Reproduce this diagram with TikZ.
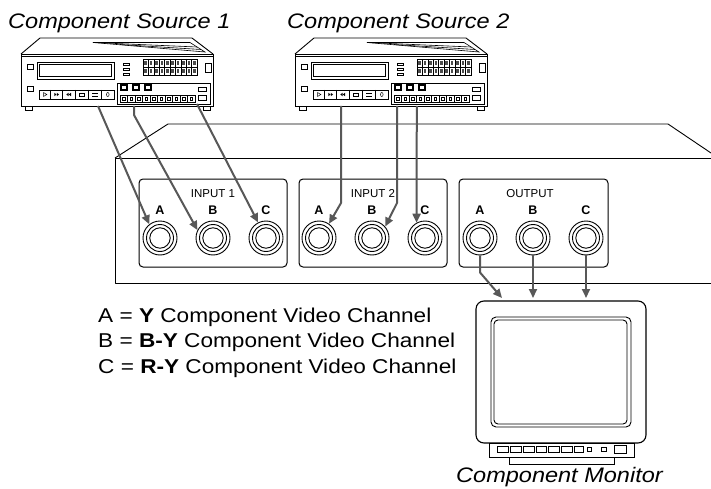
\documentclass[tikz,border=0pt]{standalone}
\usepackage{fontspec}
\setmainfont{Liberation Sans}
\usetikzlibrary{arrows.meta}
\definecolor{cablegray}{RGB}{88,88,88}
\begin{document}
\begin{tikzpicture}[x=1pt,y=-1pt,
  art/.style={draw=black,line width=0.9pt},
  finel/.style={draw=black,line width=0.6pt},
  cable/.style={draw=cablegray,line width=2pt,line join=round,-{Triangle[length=9pt,width=8pt]}},
  jack/.style={circle,draw,line width=0.9pt,minimum size=34pt,inner sep=0pt,
     path picture={\draw[line width=0.9pt] (path picture bounding box.center) circle[radius=13.5pt] circle[radius=10.2pt];}},
  panel/.style={draw,rounded corners=4pt,line width=1pt,minimum height=88pt,inner sep=0pt},
  jlabel/.style={anchor=base,inner sep=0pt,font=\fontsize{12.5}{14}\selectfont\bfseries},
  plabel/.style={anchor=base,inner sep=0pt,font=\fontsize{11.5}{13}\selectfont},
  ttl/.style={anchor=base west,inner sep=0pt,font=\fontsize{21}{25}\selectfont\itshape},
  lgd/.style={anchor=base west,inner sep=0pt,font=\fontsize{20}{24}\selectfont},
  vcr/.pic={
    % top face
    \draw[art,line join=round] (21,54) -- (40,38) -- (192,38) -- (213,54);
    \draw[finel] (93,42.5) -- (190,42.5) -- (205,52) -- cycle;
    \draw[finel] (93,42.5) -- (197,47);
    \draw[finel] (120,44.5) -- (201,49.5);
    % front
    \draw[art] (21,54) rectangle (213,106);
    \draw[finel] (21,56.5) -- (213,56.5);
    % feet
    \draw[finel] (25,106) rectangle (32,110);
    \draw[finel] (203,106) rectangle (210,110);
    % left squares
    \draw[finel] (27,64) rectangle (33,69);
    \draw[finel] (27,86) rectangle (33,91);
    % display
    \draw[finel] (37,62) rectangle (114,79);
    \draw[finel] (39.5,64.5) rectangle (111.5,76.5);
    % stacked small rects
    \draw[finel] (123,63) rectangle (129,65.5);
    \draw[finel] (123,68) rectangle (129,70.5);
    \draw[finel] (123,73) rectangle (129,75.5);
    % button grid
    \draw[finel] (143,59) rectangle (197,75);
    \foreach \i in {1,...,9} \draw[finel] (143+\i*5.4,59) -- (143+\i*5.4,75);
    \draw[finel] (143,67) -- (197,67);
    \foreach \i in {0,...,9} \foreach \j in {0,1}
      \fill[black!70] (144.4+\i*5.4,61+\j*8) rectangle ++(2.6,4);
    % tall rect
    \draw[finel] (205,63) rectangle (211,72);
    % transport row
    \draw[finel] (39,90) rectangle (114,99);
    \foreach \xx in {50.7,62.7,75,88.3,101.7} \draw[finel] (\xx,90) -- (\xx,99);
    \draw[line width=0.5pt] (43.5,92.5) -- (46.8,94.5) -- (43.5,96.5) -- cycle;
    \fill (54.3,92.8) -- (56.5,94.5) -- (54.3,96.2) -- cycle;
    \fill (56.8,92.8) -- (59,94.5) -- (56.8,96.2) -- cycle;
    \fill (71,92.8) -- (68.8,94.5) -- (71,96.2) -- cycle;
    \fill (68.5,92.8) -- (66.3,94.5) -- (68.5,96.2) -- cycle;
    \draw[line width=0.5pt] (79,93) rectangle (84.5,96);
    \draw[line width=0.5pt] (92,93.2) -- (98,93.2) (92,95.8) -- (98,95.8);
    \draw[line width=0.5pt] (107.8,94.5) ellipse (1.3 and 2);
    % lower panel
    \draw[finel] (117,83) rectangle (210,104);
    \draw[line width=1.1pt] (121,85) rectangle (127,90);
    \draw[line width=1.1pt] (133,85) rectangle (139,90);
    \draw[line width=1.1pt] (145,85) rectangle (151,90);
    \foreach \i in {0,...,9} {
      \draw[finel] (120+\i*7.5,95) rectangle ++(7.5,7);
      \draw[line width=0.5pt] (122.5+\i*7.5,97.3) rectangle ++(2.5,2.5);
    }
    \draw[finel] (198,87) rectangle (206,91);
    \draw[finel] (198,95) rectangle (206,100);
  }
]
\useasboundingbox (0,0) rectangle (711,489);
\fill[white] (0,0) rectangle (711,489);

% titles
\node[ttl] (t1) at (8,29) {\scalebox{1.12}[1]{Component Source 1}};
\node[ttl] (t2) at (287,29) {\scalebox{1.12}[1]{Component Source 2}};
\node[ttl] (t3) at (456,482) {\scalebox{1.12}[1]{Component Monitor}};

% source devices
\pic at (0,0) {vcr};
\pic at (274,0) {vcr};

% chassis
\draw[art,line join=round] (711,158) -- (115,158) -- (115,283) -- (711,283);
\draw[art,line join=round] (115,158) -- (168,124) -- (668,124) -- (711,153);

% panels
\node[panel,minimum width=148pt] (p1) at (213,223) {};
\node[panel,minimum width=148pt] (p2) at (373,223) {};
\node[panel,minimum width=149pt] (p3) at (533.5,223) {};
\node[plabel] (p1l) at (213,197) {INPUT 1};
\node[plabel] (p2l) at (373,197) {INPUT 2};
\node[plabel] (p3l) at (530,197) {OUTPUT};

% jacks
\node[jack] (jA1) at (160,238) {};
\node[jack] (jB1) at (213,238) {};
\node[jack] (jC1) at (266,238) {};
\node[jack] (jA2) at (319,238) {};
\node[jack] (jB2) at (372,238) {};
\node[jack] (jC2) at (425,238) {};
\node[jack] (jOA) at (480,238) {};
\node[jack] (jOB) at (533,238) {};
\node[jack] (jOC) at (586,238) {};
\foreach \n/\l in {A1/A,B1/B,C1/C,A2/A,B2/B,C2/C,OA/A,OB/B,OC/C}
  \node[jlabel] (lab\n) at ([yshift=24pt]j\n.center) {\l};

% monitor
\node[draw,line width=1.1pt,rounded corners=8pt,minimum width=170pt,minimum height=142pt,inner sep=0pt] (mon) at (561,372) {};
\draw[art,rounded corners=5pt] (491,317) rectangle (631,427);
\draw[art,rounded corners=4pt] (494,320) rectangle (627,424);
\draw[art] (489,443) rectangle (634,457);
\draw[art] (509,457) rectangle (614,464);
\foreach \a/\b in {497.3/508.3,510/521.7,523.3/534,536/546.7,548.7/559.3,561.7/572.3,574.3/583.3}
  \draw[finel] (\a,446) rectangle (\b,452);
\draw[finel] (587,447) rectangle (591.7,451.5);
\draw[finel] (601.3,447) rectangle (606,451.5);
\draw[finel] (614.3,445.7) rectangle (626.7,453.3);

% legend
\node[lgd] (l1) at (98,322) {\scalebox{1.13}[1]{A = \textbf{Y} Component Video Channel}};
\node[lgd] (l2) at (98,347) {\scalebox{1.13}[1]{B = \textbf{B-Y} Component Video Channel}};
\node[lgd] (l3) at (98,373) {\scalebox{1.13}[1]{C = \textbf{R-Y} Component Video Channel}};

% cables
\coordinate (s1a) at (98,106);
\coordinate (s1b) at (134,106);
\coordinate (s1c) at (197,104);
\coordinate (s2a) at (341,106);
\coordinate (s2b) at (397,106);
\coordinate (s2c) at (416.8,106);
\coordinate (mA) at (502,298);
\draw[cable] (s1a) -- (jA1.128);
\draw[cable] (s1b) -- ++(0,9) -- (jB1.153);
\draw[cable] (s1c) -- (jC1.117);
\draw[cable] (s2a) -- ++(0,97) -- (jA2.55);
\draw[cable] (s2b) -- ++(0,97) -- (jB2.41);
\draw[cable] (s2c) -- (jC2.119);
\draw[cable] (jOA.south) -- ++(0,17) -- (mA);
\draw[cable] (jOB.south) -- (jOB.south |- mA);
\draw[cable] (jOC.south) -- (jOC.south |- mA);
\end{tikzpicture}
\end{document}
